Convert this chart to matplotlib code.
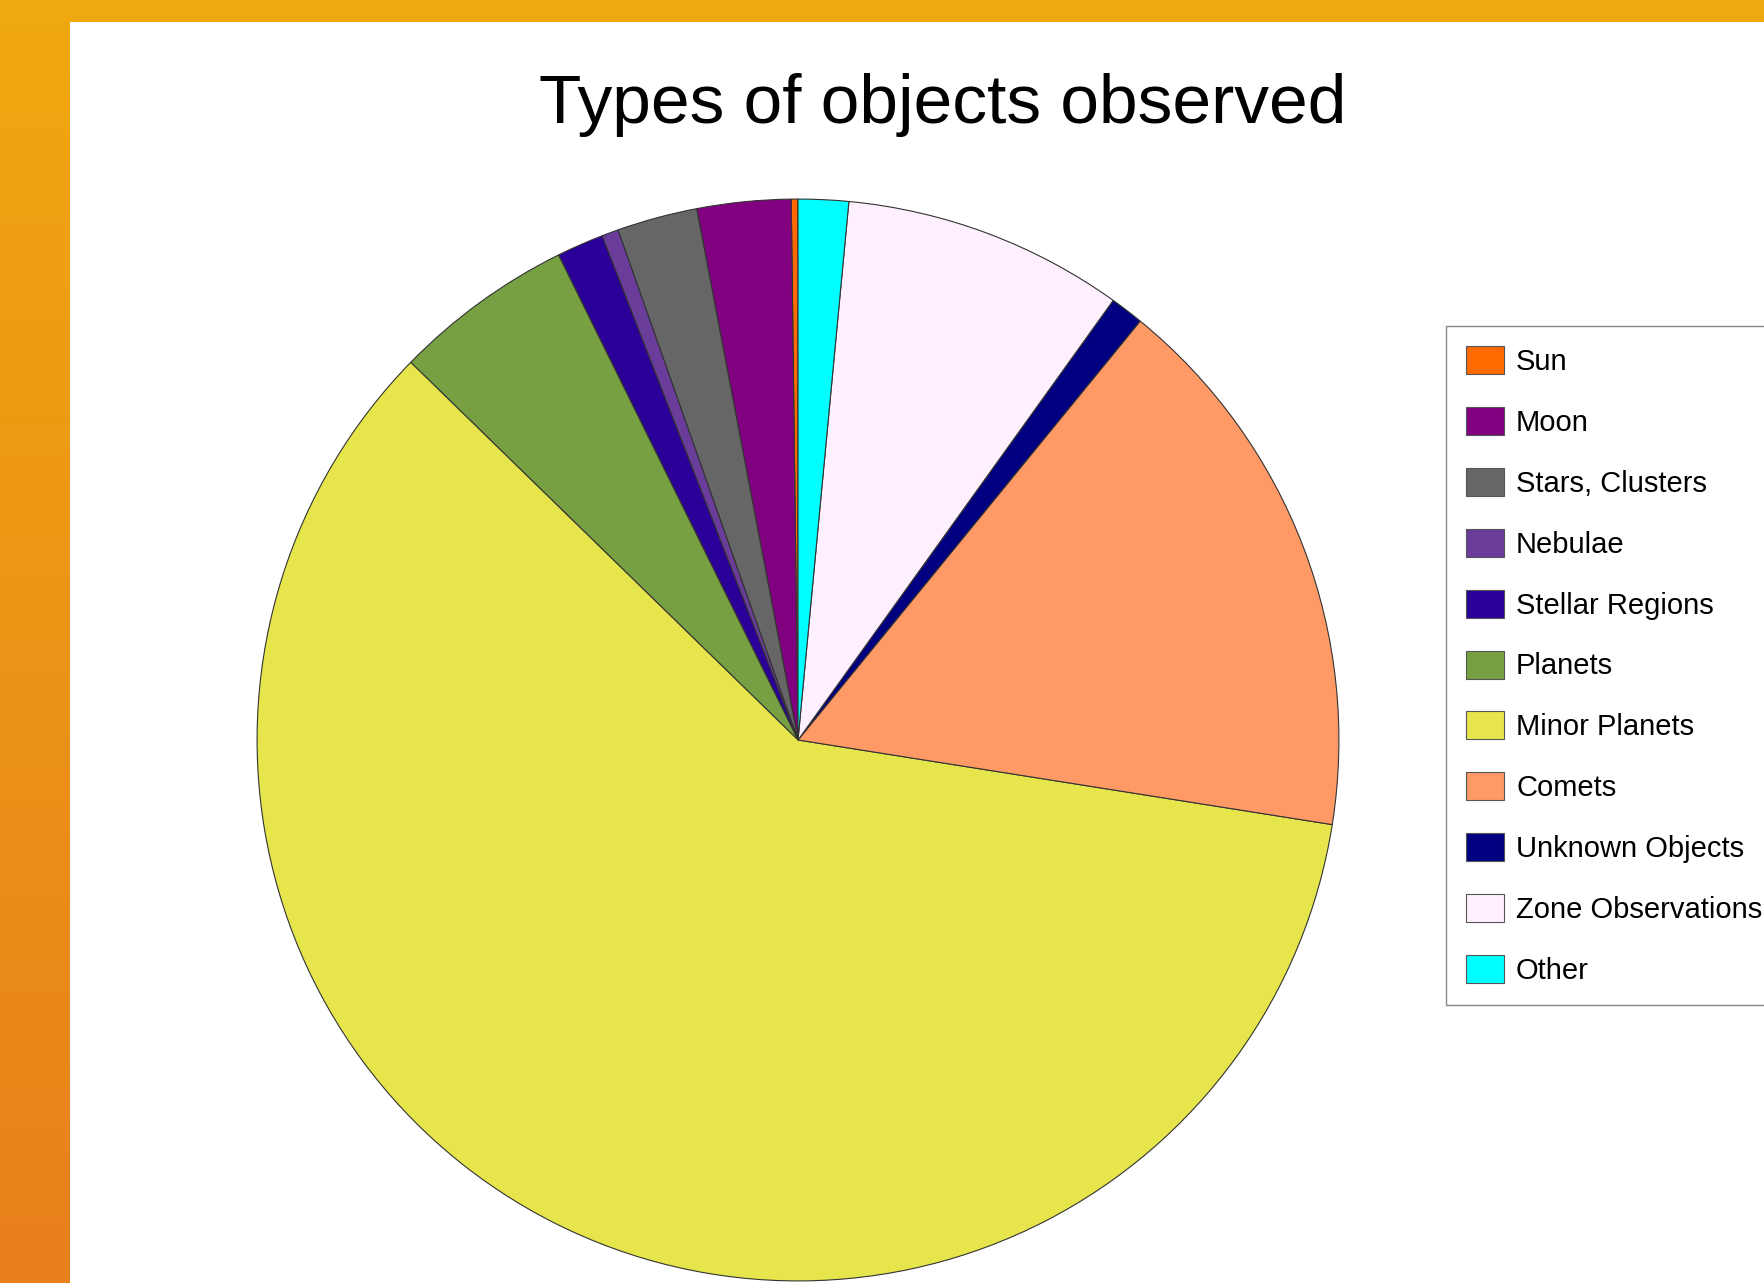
import numpy as np
import matplotlib.pyplot as plt

# donnees (pourcentages)
categories = ["Sun", "Moon", "Stars, Clusters", "Nebulae", "Stellar Regions", "Planets",
              "Minor Planets", "Comets", "Unknown Objects", "Zone Observations", "Other"]
parts = [0.2, 2.8, 2.4, 0.5, 1.4, 5.4, 59.8, 16.6, 1.0, 8.4, 1.5]
couleurs = ["#ff6a00", "#800080", "#666666", "#6a3d9a", "#2a0099", "#77a042",
            "#e6e64c", "#ff9966", "#000080", "#fff0ff", "#00ffff"]

W, H = 1764, 1283
police = ['Liberation Sans Narrow', 'Liberation Sans', 'DejaVu Sans']

fig = plt.figure(figsize=(W / 100, H / 100), dpi=100)
fig.patch.set_facecolor("white")

# cadre orange (haut et gauche)
fond = fig.add_axes([0, 0, 1, 1], zorder=-5)
haut = np.array([240, 168, 16]) / 255
bas = np.array([232, 128, 28]) / 255
t = np.linspace(0, 1, 256)[:, None, None]
degrade = haut * (1 - t) + bas * t
fond.imshow(degrade, extent=[0, 70, H, 0], aspect="auto")
fond.add_patch(plt.Rectangle((0, 0), W, 22, color=haut, lw=0))
fond.set_xlim(0, W)
fond.set_ylim(H, 0)
fond.axis("off")

# camembert
cx, cy, r = 798, 740, 542
ax = fig.add_axes([(cx - r) / W, (H - cy - r) / H, 2 * r / W, 2 * r / H])
ax.pie(parts, colors=couleurs, startangle=90, counterclock=True, radius=1,
       wedgeprops=dict(edgecolor="#333333", linewidth=0.8))
ax.set_xlim(-1.002, 1.002)
ax.set_ylim(-1.002, 1.002)
ax.axis("off")

fig.text(943 / W, 1 - 105 / H, "Types of objects observed", fontsize=50,
         ha="center", va="center", family=police)

poignees = [plt.Rectangle((0, 0), 1, 1, facecolor=c, edgecolor="#555555", lw=0.8) for c in couleurs]
leg = fig.legend(poignees, categories, loc="upper left",
                 bbox_to_anchor=(1446 / W, 1 - 326 / H), borderaxespad=0, fancybox=False,
                 prop=dict(family=police, size=21), handlelength=1.3, handleheight=1.1,
                 handletextpad=0.4, labelspacing=1.06, borderpad=0.7, framealpha=1,
                 edgecolor="#888888")
leg.get_frame().set_linewidth(1.0)

fig.savefig("out.png", dpi=100)
